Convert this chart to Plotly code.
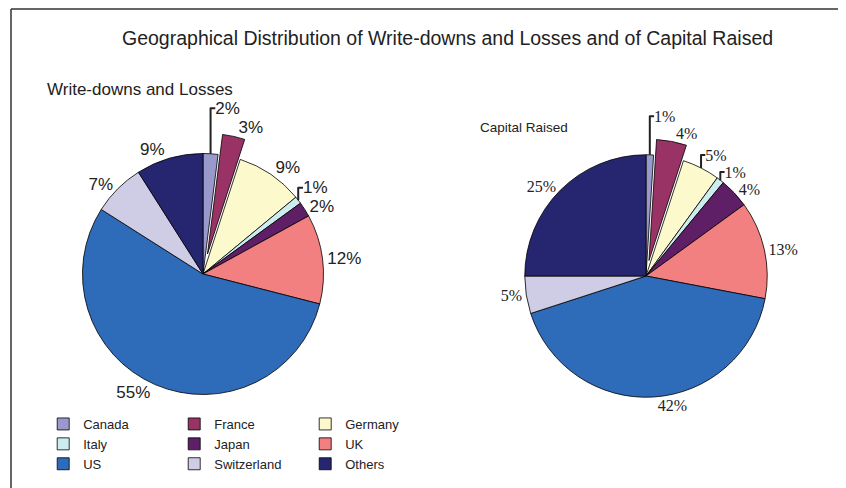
import plotly.graph_objects as go

categories = ["Canada", "France", "Germany", "Italy", "Japan", "UK", "US", "Switzerland", "Others"]
writedowns = [2, 3, 9, 1, 2, 12, 55, 7, 9]
capital = [1, 4, 5, 1, 4, 13, 42, 5, 25]
pull_wd = [0, 0.17, 0, 0, 0, 0, 0, 0, 0]
pull_cap = [0, 0.13, 0, 0, 0, 0, 0, 0, 0]
colors = ["#9999CC", "#993366", "#FCFACD", "#CCECF0", "#5E1F66",
          "#F38080", "#2E6BB8", "#CFCDE6", "#262670"]

# the page body adds an 8px margin, so the figure is a bit smaller and offset
OFF = 8
W, H = 846 - OFF, 488 - OFF
ML, MR, MT, MB = 36, 10, 0, 9
GW, GH = W - ML - MR, H - MT - MB


def px(x_page):
    return (x_page - OFF - ML) / GW


def py(y_page):
    return (H - MB - (y_page - OFF)) / GH


def dom(cx, cy, half):
    return dict(x=[px(cx - half), px(cx + half)], y=[py(cy + half), py(cy - half)])


fig = go.Figure()
fig.add_trace(go.Pie(
    labels=categories, values=writedowns, sort=False, direction="clockwise",
    rotation=0, pull=pull_wd, domain=dom(203, 274, 141),
    marker=dict(colors=colors, line=dict(color="#000000", width=0.8)),
    texttemplate="%{value}%", textposition="outside",
    textfont=dict(family="Liberation Sans, Arial", size=17, color="#222222"),
    hoverinfo="label+value",
))
fig.add_trace(go.Pie(
    labels=categories, values=capital, sort=False, direction="clockwise",
    rotation=0, pull=pull_cap, domain=dom(646, 276, 137),
    marker=dict(colors=colors, line=dict(color="#000000", width=0.8)),
    texttemplate="%{value}%", textposition="outside",
    textfont=dict(family="Liberation Serif, Times New Roman", size=16, color="#222222"),
    hoverinfo="label+value", showlegend=False,
))

fig.update_layout(
    width=W, height=H,
    margin=dict(l=ML, r=MR, t=MT, b=MB, autoexpand=False),
    paper_bgcolor="white", plot_bgcolor="white",
    font=dict(family="Liberation Sans, Arial", color="#222222"),
    legend=dict(orientation="h", x=-0.001, xanchor="left", y=0.0, yanchor="bottom",
                entrywidth=86, entrywidthmode="pixels",
                font=dict(family="Liberation Sans, Arial", size=13, color="#222222"),
                traceorder="normal", itemclick=False, itemdoubleclick=False),
    annotations=[
        dict(text="Geographical Distribution of Write-downs and Losses and of Capital Raised",
             x=px(448), y=py(38), xref="paper", yref="paper", showarrow=False,
             xanchor="center", yanchor="middle",
             font=dict(size=19.5, family="Liberation Sans, Arial", color="#222222")),
        dict(text="Write-downs and Losses", x=px(45), y=py(90), xref="paper", yref="paper",
             showarrow=False, xanchor="left", yanchor="middle",
             font=dict(size=17, family="Liberation Sans, Arial", color="#222222")),
        dict(text="Capital Raised", x=px(478), y=py(127), xref="paper", yref="paper",
             showarrow=False, xanchor="left", yanchor="middle",
             font=dict(size=13.5, family="Liberation Sans, Arial", color="#222222")),
    ],
    shapes=[
        dict(type="line", xref="paper", yref="paper", x0=px(11), x1=px(846), y0=py(9), y1=py(9),
             line=dict(color="#333333", width=1.5)),
        dict(type="line", xref="paper", yref="paper", x0=px(11), x1=px(11), y0=py(488), y1=py(9),
             line=dict(color="#333333", width=1.5)),
    ],
)

fig.write_html("out.html")
